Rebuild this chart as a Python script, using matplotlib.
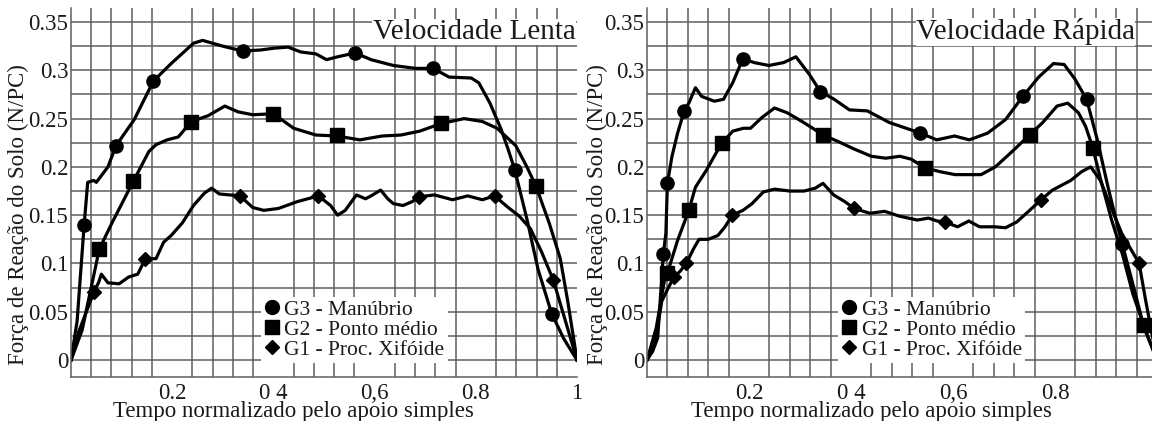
import numpy as np
import matplotlib
matplotlib.use("Agg")
import matplotlib.pyplot as plt
from matplotlib.lines import Line2D

plt.rcParams['font.family'] = ['Liberation Serif', 'DejaVu Serif']

# ---- data (normalized time, N/PC) ----
# left panel: slow speed
lenta_g3_x = [0, 0.012, 0.026, 0.033, 0.045, 0.05, 0.073, 0.089, 0.125, 0.163, 0.198, 0.242, 0.26, 0.30, 0.339,
              0.374, 0.403, 0.429, 0.454, 0.484, 0.505, 0.527, 0.562, 0.593, 0.637, 0.681, 0.716, 0.747, 0.791,
              0.806, 0.828, 0.85, 0.864, 0.877, 0.901, 0.923, 0.95, 0.974, 1.0]
lenta_g3_y = [0, 0.04, 0.14, 0.184, 0.186, 0.184, 0.2, 0.222, 0.249, 0.289, 0.307, 0.328, 0.331, 0.325, 0.32,
              0.321, 0.323, 0.324, 0.319, 0.317, 0.311, 0.314, 0.318, 0.311, 0.305, 0.302, 0.302, 0.293, 0.292,
              0.287, 0.266, 0.239, 0.218, 0.197, 0.146, 0.094, 0.048, 0.022, 0]
lenta_g2_x = [0, 0.022, 0.056, 0.081, 0.123, 0.154, 0.168, 0.19, 0.212, 0.238, 0.271, 0.304, 0.33, 0.359, 0.4,
              0.44, 0.484, 0.525, 0.571, 0.615, 0.652, 0.689, 0.732, 0.777, 0.813, 0.842, 0.879, 0.901, 0.919,
              0.945, 0.967, 0.982, 1.0]
lenta_g2_y = [0, 0.031, 0.115, 0.142, 0.185, 0.216, 0.223, 0.228, 0.231, 0.247, 0.253, 0.263, 0.257, 0.254, 0.255,
              0.24, 0.233, 0.232, 0.228, 0.232, 0.233, 0.237, 0.245, 0.25, 0.247, 0.24, 0.222, 0.2, 0.18,
              0.142, 0.105, 0.06, 0]
lenta_g1_x = [0, 0.015, 0.045, 0.055, 0.06, 0.073, 0.095, 0.114, 0.132, 0.147, 0.168, 0.183, 0.198, 0.22, 0.242,
              0.264, 0.278, 0.293, 0.334, 0.359, 0.381, 0.41, 0.447, 0.489, 0.513, 0.527, 0.542, 0.564, 0.582,
              0.593, 0.612, 0.626, 0.637, 0.656, 0.674, 0.687, 0.718, 0.754, 0.784, 0.813, 0.837, 0.864, 0.886,
              0.908, 0.93, 0.953, 0.978, 1.0]
lenta_g1_y = [0, 0.029, 0.07, 0.081, 0.089, 0.08, 0.079, 0.086, 0.089, 0.105, 0.105, 0.122, 0.129, 0.142, 0.16,
              0.173, 0.178, 0.172, 0.17, 0.158, 0.155, 0.157, 0.164, 0.17, 0.16, 0.15, 0.155, 0.171, 0.167,
              0.17, 0.176, 0.167, 0.162, 0.16, 0.164, 0.169, 0.171, 0.166, 0.17, 0.166, 0.17, 0.158, 0.149,
              0.136, 0.112, 0.083, 0.039, 0]
lenta_g3_mx = [0.026, 0.089, 0.163, 0.339, 0.562, 0.716, 0.877, 0.95]
lenta_g3_my = [0.14, 0.222, 0.289, 0.32, 0.318, 0.302, 0.197, 0.048]
lenta_g2_mx = [0.056, 0.123, 0.238, 0.4, 0.525, 0.732, 0.919]
lenta_g2_my = [0.115, 0.185, 0.247, 0.255, 0.233, 0.245, 0.18]
lenta_g1_mx = [0.045, 0.147, 0.334, 0.489, 0.687, 0.837, 0.953]
lenta_g1_my = [0.07, 0.105, 0.17, 0.17, 0.169, 0.17, 0.083]

# right panel: fast speed
rapida_g3_x = [0, 0.011, 0.021, 0.032, 0.037, 0.04, 0.049, 0.06, 0.073, 0.082, 0.095, 0.107, 0.132, 0.15, 0.168,
               0.188, 0.21, 0.239, 0.268, 0.292, 0.318, 0.34, 0.367, 0.397, 0.432, 0.475, 0.536, 0.568, 0.603,
               0.632, 0.668, 0.703, 0.737, 0.768, 0.797, 0.818, 0.839, 0.862, 0.883, 0.904, 0.925, 0.932, 0.953,
               0.975, 1.0]
rapida_g3_y = [0, 0.009, 0.023, 0.11, 0.131, 0.183, 0.211, 0.235, 0.258, 0.266, 0.282, 0.273, 0.268, 0.27, 0.287,
               0.312, 0.308, 0.305, 0.308, 0.314, 0.296, 0.278, 0.27, 0.259, 0.258, 0.246, 0.235, 0.228, 0.232,
               0.228, 0.235, 0.249, 0.273, 0.293, 0.307, 0.306, 0.291, 0.27, 0.228, 0.179, 0.134, 0.12, 0.078,
               0.033, 0]
rapida_g2_x = [0, 0.018, 0.035, 0.04, 0.06, 0.082, 0.095, 0.117, 0.135, 0.148, 0.168, 0.189, 0.203, 0.225, 0.25,
               0.275, 0.304, 0.325, 0.345, 0.376, 0.404, 0.44, 0.468, 0.496, 0.518, 0.545, 0.575, 0.604, 0.655,
               0.683, 0.712, 0.75, 0.776, 0.804, 0.825, 0.846, 0.86, 0.874, 0.89, 0.911, 0.932, 0.953, 0.974, 1.0]
rapida_g2_y = [0, 0.033, 0.085, 0.09, 0.124, 0.155, 0.179, 0.197, 0.214, 0.225, 0.237, 0.24, 0.24, 0.251, 0.261,
               0.256, 0.247, 0.24, 0.233, 0.226, 0.219, 0.211, 0.209, 0.211, 0.208, 0.199, 0.195, 0.192, 0.192,
               0.2, 0.214, 0.233, 0.246, 0.263, 0.266, 0.256, 0.242, 0.22, 0.186, 0.145, 0.11, 0.068, 0.036, 0]
rapida_g1_x = [0, 0.015, 0.029, 0.04, 0.053, 0.065, 0.077, 0.091, 0.102, 0.12, 0.139, 0.153, 0.167, 0.188, 0.206,
               0.228, 0.25, 0.28, 0.308, 0.33, 0.345, 0.366, 0.388, 0.406, 0.437, 0.466, 0.495, 0.53, 0.552,
               0.569, 0.584, 0.609, 0.631, 0.652, 0.682, 0.703, 0.725, 0.746, 0.773, 0.795, 0.831, 0.852, 0.87,
               0.889, 0.91, 0.931, 0.965, 0.978, 1.0]
rapida_g1_y = [0, 0.016, 0.061, 0.073, 0.086, 0.092, 0.1, 0.115, 0.125, 0.125, 0.129, 0.138, 0.15, 0.155, 0.162,
               0.174, 0.177, 0.175, 0.175, 0.178, 0.183, 0.171, 0.164, 0.157, 0.152, 0.154, 0.149, 0.145, 0.147,
               0.144, 0.143, 0.138, 0.144, 0.138, 0.138, 0.137, 0.143, 0.153, 0.166, 0.176, 0.186, 0.195, 0.2,
               0.186, 0.158, 0.131, 0.1, 0.061, 0]
rapida_g3_mx = [0.032, 0.04, 0.073, 0.188, 0.34, 0.536, 0.737, 0.862, 0.932]
rapida_g3_my = [0.11, 0.183, 0.258, 0.312, 0.278, 0.235, 0.273, 0.27, 0.12]
rapida_g2_mx = [0.04, 0.082, 0.148, 0.345, 0.545, 0.75, 0.874, 0.974]
rapida_g2_my = [0.09, 0.155, 0.225, 0.233, 0.199, 0.233, 0.22, 0.036]
rapida_g1_mx = [0.053, 0.077, 0.167, 0.406, 0.584, 0.773, 0.965]
rapida_g1_my = [0.086, 0.1, 0.15, 0.157, 0.143, 0.166, 0.1]

labels = ['G3 - Manúbrio', 'G2 - Ponto médio', 'G1 - Proc. Xifóide']
markers = ['o', 's', 'D']
xtick_vals = [0.2, 0.4, 0.6, 0.8, 1.0]
xtick_labels = ['0.2', '0 4', '0,6', '0.8', '1']
ytick_vals = [0, 0.05, 0.1, 0.15, 0.2, 0.25, 0.3, 0.35]
ytick_labels = ['0', '0.05', '0.1', '0.15', '0.2', '0.25', '0.3', '0.35']

gridc = '#5e5e5e'
txtc = '#1a1a1a'


def panel(ax, curves, marks, title, title_x, ylab_x):
    ax.set_xlim(0, 1)
    ax.set_ylim(-0.0175, 0.3645)
    ax.set_xticks(xtick_vals)
    ax.set_xticklabels(xtick_labels)
    ax.set_xticks(np.arange(0.04, 0.97, 0.04), minor=True)
    ax.set_yticks(ytick_vals)
    ax.set_yticklabels(ytick_labels)
    ax.set_yticks(np.arange(0, 0.36, 0.025), minor=True)
    ax.tick_params(which='both', length=0, labelsize=16.5, colors=txtc)
    ax.tick_params(axis='x', pad=4.5)
    ax.tick_params(axis='y', pad=2)
    ax.grid(which='minor', color=gridc, lw=1.1)
    ax.grid(which='major', axis='y', color=gridc, lw=1.1)
    for s in ['top', 'right']:
        ax.spines[s].set_visible(False)
    for s in ['left', 'bottom']:
        ax.spines[s].set_color(gridc)
        ax.spines[s].set_linewidth(1.1)
    ax.set_axisbelow(True)

    for (x, y) in curves:
        ax.plot(x, y, color='black', lw=2.3, solid_joinstyle='round')
    for (mx, my), m in zip(marks, markers):
        ms = 9.5 if m != 'D' else 7
        ax.plot(mx, my, ls='none', marker=m, color='black', ms=ms)

    ax.text(title_x, 0.935, title, transform=ax.transAxes, ha='right', va='center',
            fontsize=21, color=txtc,
            bbox=dict(facecolor='white', edgecolor='none', pad=0.2))

    handles = [Line2D([], [], ls='none', marker=m, color='black', ms=(10 if m != 'D' else 7.5))
               for m in markers]
    leg = ax.legend(handles, labels, loc='upper left', bbox_to_anchor=(0.375, 0.218),
                    frameon=True, fancybox=False, framealpha=1, edgecolor='none',
                    facecolor='white', fontsize=15.5, handlelength=0.7, handletextpad=0.25,
                    labelspacing=0.0, borderpad=0.15, borderaxespad=0)
    for t in leg.get_texts():
        t.set_color(txtc)

    ax.set_xlabel('Tempo normalizado pelo apoio simples', fontsize=16.5, color=txtc)
    ax.xaxis.set_label_coords(0.44, -0.066)
    ax.set_ylabel('Força de Reação do Solo (N/PC)', fontsize=16.5, color=txtc)
    ax.yaxis.set_label_coords(ylab_x, 0.44)


fig = plt.figure(figsize=(11.52, 4.21), dpi=100)
ax1 = fig.add_axes([71 / 1152, 44 / 421, 506 / 1152, 369 / 421])
ax2 = fig.add_axes([647 / 1152, 44 / 421, 510 / 1152, 369 / 421])

panel(ax1,
      [(lenta_g3_x, lenta_g3_y), (lenta_g2_x, lenta_g2_y), (lenta_g1_x, lenta_g1_y)],
      [(lenta_g3_mx, lenta_g3_my), (lenta_g2_mx, lenta_g2_my), (lenta_g1_mx, lenta_g1_my)],
      'Velocidade Lenta', 0.997, -0.083)
panel(ax2,
      [(rapida_g3_x, rapida_g3_y), (rapida_g2_x, rapida_g2_y), (rapida_g1_x, rapida_g1_y)],
      [(rapida_g3_mx, rapida_g3_my), (rapida_g2_mx, rapida_g2_my), (rapida_g1_mx, rapida_g1_my)],
      'Velocidade Rápida', 0.957, -0.077)

fig.savefig('out.png', dpi=100)
